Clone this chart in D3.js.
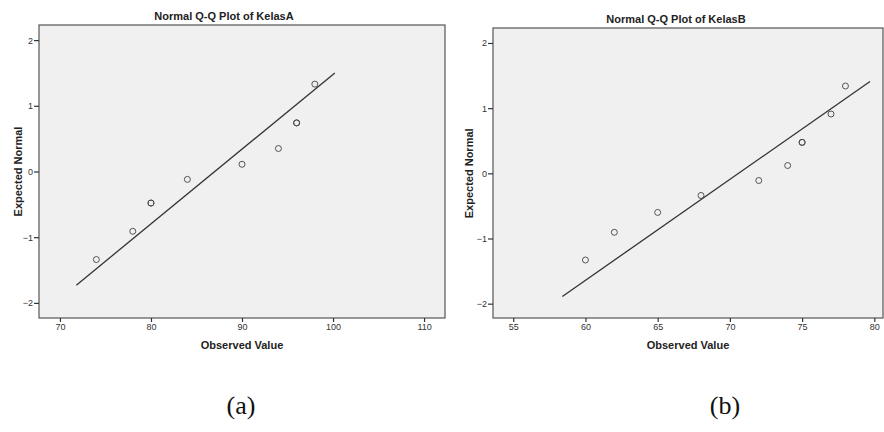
<!DOCTYPE html>
<html>
<head>
<meta charset="utf-8">
<script src="https://cdn.jsdelivr.net/npm/d3@7"></script>
<style>
  body { margin: 0; background: #ffffff; }
  svg { display: block; }
</style>
</head>
<body>
<div id="chart"></div>
<script>
// KelasA
const kelasAObserved = [74, 78, 80, 80, 84, 90, 94, 96, 96, 98];
const kelasAExpected = [-1.34, -0.91, -0.48, -0.48, -0.12, 0.11, 0.35, 0.74, 0.74, 1.33];
const kelasALineX = [71.8, 100.2];
const kelasALineY = [-1.73, 1.50];
const kelasAXTicks = [70, 80, 90, 100, 110];

// KelasB
const kelasBObserved = [60, 62, 65, 68, 72, 74, 75, 75, 77, 78];
const kelasBExpected = [-1.33, -0.905, -0.6, -0.34, -0.11, 0.12, 0.475, 0.475, 0.91, 1.34];
const kelasBLineX = [58.4, 79.7];
const kelasBLineY = [-1.89, 1.41];
const kelasBXTicks = [55, 60, 65, 70, 75, 80];

const yTicks = [-2, -1, 0, 1, 2];

const W = 884, H = 432;

const svg = d3.select("#chart")
    .append("svg")
    .attr("width", W)
    .attr("height", H);

function drawPanel(cfg) {
    const { box, xDomain, yDomain, xTicks, observed, expected, lineX, lineY, title, titleX, yTitleX, caption, captionX } = cfg;

    const xScale = d3.scaleLinear().domain(xDomain).range([box.left, box.right]);
    const yScale = d3.scaleLinear().domain(yDomain).range([box.bottom, box.top]);

    const g = svg.append("g");

    // plot background
    g.append("rect")
        .attr("x", box.left)
        .attr("y", box.top)
        .attr("width", box.right - box.left)
        .attr("height", box.bottom - box.top)
        .style("fill", "#f0f0f0")
        .style("stroke", "#555555")
        .style("stroke-width", 1.2);

    const yaxis = d3.axisLeft(yScale).tickValues(yTicks).tickSize(5).tickPadding(1)
        .tickFormat(d3.format("d"));
    const xaxis = d3.axisBottom(xScale).tickValues(xTicks).tickSize(4).tickPadding(2)
        .tickFormat(d3.format("d"));

    g.append("g")
        .attr("class", "y-axis")
        .attr("transform", `translate(${box.left},0)`)
        .call(yaxis)
        .call(s => s.select(".domain").remove())
        .selectAll("text")
        .style("font-family", "'Liberation Sans', Arial, sans-serif")
        .style("font-size", "9px")
        .style("fill", "#333333");

    g.append("g")
        .attr("class", "x-axis")
        .attr("transform", `translate(0,${box.bottom})`)
        .call(xaxis)
        .call(s => s.select(".domain").remove())
        .selectAll("text")
        .style("font-family", "'Liberation Sans', Arial, sans-serif")
        .style("font-size", "9px")
        .style("fill", "#333333");

    g.selectAll(".tick line").style("stroke", "#333333").style("stroke-width", 1.2);

    // fitted line
    const line = d3.line()
        .x(d => xScale(d[0]))
        .y(d => yScale(d[1]));

    g.append("path")
        .datum(d3.zip(lineX, lineY))
        .style("fill", "none")
        .style("stroke", "#333333")
        .style("stroke-width", 1.3)
        .attr("d", line);

    // points
    g.selectAll("circle.pt")
        .data(d3.zip(observed, expected))
        .enter()
        .append("circle")
        .attr("class", "pt")
        .attr("cx", d => xScale(d[0]))
        .attr("cy", d => yScale(d[1]))
        .attr("r", 3)
        .style("fill", "none")
        .style("stroke", "#444444")
        .style("stroke-width", 0.9);

    // titles
    g.append("text")
        .attr("x", titleX)
        .attr("y", box.top - 5)
        .attr("text-anchor", "middle")
        .style("font-family", "'Liberation Sans', Arial, sans-serif")
        .style("font-weight", "bold")
        .style("font-size", "11px")
        .style("fill", "#222222")
        .text(title);

    g.append("text")
        .attr("x", (box.left + box.right) / 2)
        .attr("y", 349)
        .attr("text-anchor", "middle")
        .style("font-family", "'Liberation Sans', Arial, sans-serif")
        .style("font-weight", "bold")
        .style("font-size", "11px")
        .style("fill", "#222222")
        .text("Observed Value");

    g.append("text")
        .attr("transform", `translate(${yTitleX},${yScale(0)}) rotate(-90)`)
        .attr("text-anchor", "middle")
        .style("font-family", "'Liberation Sans', Arial, sans-serif")
        .style("font-weight", "bold")
        .style("font-size", "11px")
        .style("fill", "#222222")
        .text("Expected Normal");

    // caption
    g.append("text")
        .attr("x", captionX)
        .attr("y", 414)
        .attr("text-anchor", "middle")
        .style("font-family", "'Liberation Serif', 'Times New Roman', serif")
        .style("font-size", "26px")
        .style("fill", "#111111")
        .text(caption);
}

drawPanel({
    box: { left: 39, right: 445, top: 25, bottom: 318 },
    xDomain: [67.7, 112.3],
    yDomain: [-2.23, 2.23],
    xTicks: kelasAXTicks,
    observed: kelasAObserved,
    expected: kelasAExpected,
    lineX: kelasALineX,
    lineY: kelasALineY,
    title: "Normal Q-Q Plot of KelasA",
    titleX: 224,
    yTitleX: 22,
    caption: "(a)",
    captionX: 241
});

drawPanel({
    box: { left: 493, right: 883, top: 28, bottom: 318 },
    xDomain: [53.6, 80.6],
    yDomain: [-2.22, 2.23],
    xTicks: kelasBXTicks,
    observed: kelasBObserved,
    expected: kelasBExpected,
    lineX: kelasBLineX,
    lineY: kelasBLineY,
    title: "Normal Q-Q Plot of KelasB",
    titleX: 676,
    yTitleX: 473,
    caption: "(b)",
    captionX: 725
});
</script>
</body>
</html>
